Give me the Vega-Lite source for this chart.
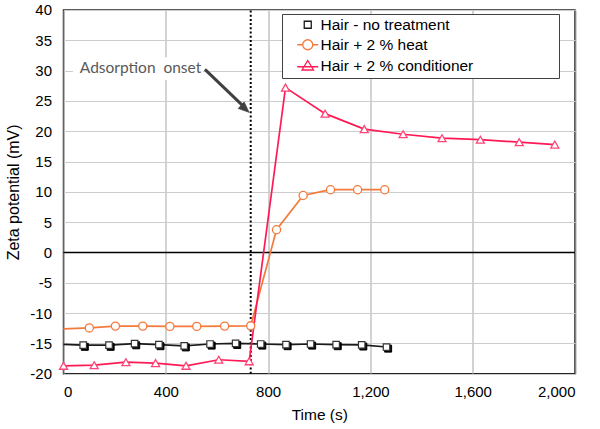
{
  "$schema": "https://vega.github.io/schema/vega-lite/v6.json",
  "width": 511.5,
  "height": 363.7,
  "autosize": {"type": "none"},
  "padding": {"left": 63.5, "top": 10, "right": 25, "bottom": 55},
  "background": "white",
  "config": {
    "view": {"stroke": "#262626", "strokeWidth": 1.5},
    "font": "Liberation Sans",
    "axis": {"labelFont": "Liberation Sans", "titleFont": "Liberation Sans", "labelColor": "black", "titleColor": "black", "titleFontWeight": "normal", "ticks": false, "domain": false}
  },
  "datasets": {
    "series": [
      {"series": "Hair - no treatment", "time": 0, "value": -15.15, "marker": "no"},
      {"series": "Hair - no treatment", "time": 77, "value": -15.3, "marker": "yes"},
      {"series": "Hair - no treatment", "time": 178, "value": -15.3, "marker": "yes"},
      {"series": "Hair - no treatment", "time": 278, "value": -15.05, "marker": "yes"},
      {"series": "Hair - no treatment", "time": 373, "value": -15.2, "marker": "yes"},
      {"series": "Hair - no treatment", "time": 472, "value": -15.4, "marker": "yes"},
      {"series": "Hair - no treatment", "time": 573, "value": -15.1, "marker": "yes"},
      {"series": "Hair - no treatment", "time": 673, "value": -15.0, "marker": "yes"},
      {"series": "Hair - no treatment", "time": 771, "value": -15.1, "marker": "yes"},
      {"series": "Hair - no treatment", "time": 870, "value": -15.2, "marker": "yes"},
      {"series": "Hair - no treatment", "time": 966, "value": -15.1, "marker": "yes"},
      {"series": "Hair - no treatment", "time": 1066, "value": -15.2, "marker": "yes"},
      {"series": "Hair - no treatment", "time": 1166, "value": -15.25, "marker": "yes"},
      {"series": "Hair - no treatment", "time": 1263, "value": -15.6, "marker": "yes"},
      {"series": "Hair + 2 % heat", "time": 0, "value": -12.6, "marker": "no"},
      {"series": "Hair + 2 % heat", "time": 101, "value": -12.45, "marker": "yes"},
      {"series": "Hair + 2 % heat", "time": 203, "value": -12.15, "marker": "yes"},
      {"series": "Hair + 2 % heat", "time": 310, "value": -12.15, "marker": "yes"},
      {"series": "Hair + 2 % heat", "time": 416, "value": -12.2, "marker": "yes"},
      {"series": "Hair + 2 % heat", "time": 521, "value": -12.2, "marker": "yes"},
      {"series": "Hair + 2 % heat", "time": 630, "value": -12.15, "marker": "yes"},
      {"series": "Hair + 2 % heat", "time": 732, "value": -12.1, "marker": "yes"},
      {"series": "Hair + 2 % heat", "time": 833, "value": 3.75, "marker": "yes"},
      {"series": "Hair + 2 % heat", "time": 937, "value": 9.4, "marker": "yes"},
      {"series": "Hair + 2 % heat", "time": 1044, "value": 10.35, "marker": "yes"},
      {"series": "Hair + 2 % heat", "time": 1150, "value": 10.35, "marker": "yes"},
      {"series": "Hair + 2 % heat", "time": 1256, "value": 10.35, "marker": "yes"},
      {"series": "Hair + 2 % conditioner", "time": 0, "value": -18.7, "marker": "yes"},
      {"series": "Hair + 2 % conditioner", "time": 120, "value": -18.6, "marker": "yes"},
      {"series": "Hair + 2 % conditioner", "time": 244, "value": -18.1, "marker": "yes"},
      {"series": "Hair + 2 % conditioner", "time": 360, "value": -18.25, "marker": "yes"},
      {"series": "Hair + 2 % conditioner", "time": 479, "value": -18.7, "marker": "yes"},
      {"series": "Hair + 2 % conditioner", "time": 607, "value": -17.7, "marker": "yes"},
      {"series": "Hair + 2 % conditioner", "time": 726, "value": -17.95, "marker": "yes"},
      {"series": "Hair + 2 % conditioner", "time": 868, "value": 27.2, "marker": "yes"},
      {"series": "Hair + 2 % conditioner", "time": 1023, "value": 22.9, "marker": "yes"},
      {"series": "Hair + 2 % conditioner", "time": 1176, "value": 20.35, "marker": "yes"},
      {"series": "Hair + 2 % conditioner", "time": 1328, "value": 19.5, "marker": "yes"},
      {"series": "Hair + 2 % conditioner", "time": 1480, "value": 18.85, "marker": "yes"},
      {"series": "Hair + 2 % conditioner", "time": 1630, "value": 18.6, "marker": "yes"},
      {"series": "Hair + 2 % conditioner", "time": 1782, "value": 18.2, "marker": "yes"},
      {"series": "Hair + 2 % conditioner", "time": 1921, "value": 17.8, "marker": "yes"}
    ]
  },
  "encoding": {
    "x": {"field": "time", "type": "quantitative", "title": "Time (s)",
      "scale": {"domain": [0, 2000], "nice": false, "zero": false},
      "axis": {"values": [0,400,800,1200,1600,2000], "format": ",.0f", "grid": true, "gridColor": "#a6a6a6", "gridWidth": 1, "labelFontSize": 15, "labelPadding": 11, "titleFontSize": 15.5, "titlePadding": 8}
    },
    "y": {"field": "value", "type": "quantitative", "title": "Zeta potential (mV)",
      "scale": {"domain": [-20, 40], "nice": false, "zero": false},
      "axis": {"values": [-20,-15,-10,-5,0,5,10,15,20,25,30,35,40], "labelExpr": "'' + datum.value", "grid": true, "gridColor": "#cccccc", "gridWidth": 1.2, "labelFontSize": 15, "labelPadding": 12, "titleFontSize": 16, "titlePadding": 8}
    }
  },
  "layer": [
    {
      "data": {"values": [{"time": 0, "time2": 2000, "value": 0}]},
      "mark": {"type": "rule", "stroke": "black", "strokeWidth": 1.5},
      "encoding": {"x2": {"field": "time2"}}
    },
    {
      "data": {"values": [{"time": 37, "time2": 545, "value": 28.45, "value2": 32.2}]},
      "mark": {"type": "rect", "fill": "white"},
      "encoding": {"x2": {"field": "time2"}, "y2": {"field": "value2"}}
    },
    {
      "data": {"values": [{"time": 64, "value": 30.4, "label": "Adsorption\u00a0 onset"}]},
      "mark": {"type": "text", "align": "left", "baseline": "middle", "font": "Lato", "fontSize": 15.5, "fill": "#595959"},
      "encoding": {"text": {"field": "label"}}
    },
    {
      "data": {"values": [{"time": 553, "value": 30.2, "time2": 714, "value2": 23.7}]},
      "mark": {"type": "rule", "stroke": "#404040", "strokeWidth": 3},
      "encoding": {"x2": {"field": "time2"}, "y2": {"field": "value2"}}
    },
    {
      "data": {"values": [{"time": 726, "value": 23.1}]},
      "mark": {"type": "point", "shape": "M0,0L-2.4,-1L-2.4,1Z", "size": 81, "angle": 42, "filled": true, "fill": "#404040", "stroke": "#404040", "strokeWidth": 0.5, "opacity": 1}
    },
    {
      "data": {"values": [{"time": 732, "value": -20, "value2": 40}]},
      "mark": {"type": "rule", "stroke": "black", "strokeWidth": 2, "strokeDash": [2, 2.2]},
      "encoding": {"y2": {"field": "value2"}}
    },
    {
      "data": {"name": "series"},
      "mark": {"type": "line", "strokeWidth": 1.7},
      "encoding": {
        "color": {
          "field": "series", "type": "nominal",
          "scale": {"domain": ["Hair - no treatment", "Hair + 2 % heat", "Hair + 2 % conditioner"], "range": ["#1a1a1a", "#f47a3c", "#ff1a55"]},
          "legend": {
            "title": null, "orient": "none", "legendX": 218.5, "legendY": 4,
            "fillColor": "white", "strokeColor": "#404040", "padding": 3,
            "labelFont": "Liberation Sans", "labelFontSize": 15.5, "labelColor": "black", "labelLimit": 400,
            "labelExpr": "datum.label === 'Hair + 2 % conditioner' ? datum.label + '\u00a0\u00a0\u00a0\u00a0\u00a0\u00a0\u00a0\u00a0\u00a0\u00a0\u00a0\u00a0\u00a0\u00a0\u00a0\u00a0\u00a0\u00a0\u00a0\u200b' : datum.label",
            "symbolOffset": 15, "labelOffset": 5, "rowPadding": 3, "symbolSize": 100, "symbolStrokeWidth": 1.3,
            "encode": {
              "symbols": {
                "update": {
                  "shape": {"signal": "datum.value === 'Hair - no treatment' ? 'M-0.7,-0.7H0.7V0.7H-0.7Z' : (datum.value === 'Hair + 2 % heat' ? 'M-2.1,0H-1M1,0H2.1M1,0A1,1,0,1,1,-1,0A1,1,0,1,1,1,0Z' : 'M-2.1,0.2H2.1M0,-1.05L1.15,0.85L-1.15,0.85Z')"},
                  "fill": {"value": "white"},
                  "fillOpacity": {"value": 1}
                }
              }
            }
          }
        }
      }
    },
    {
      "data": {"name": "series"},
      "transform": [{"filter": "datum.series === 'Hair + 2 % heat' && datum.marker === 'yes'"}],
      "mark": {"type": "point", "shape": "circle", "size": 66, "filled": false, "fill": "white", "fillOpacity": 1, "stroke": "#f47a3c", "strokeWidth": 1.3, "opacity": 1}
    },
    {
      "data": {"name": "series"},
      "transform": [{"filter": "datum.series === 'Hair + 2 % conditioner'"}],
      "mark": {"type": "point", "shape": "triangle-up", "size": 64, "filled": false, "fill": "white", "fillOpacity": 1, "stroke": "#ff4577", "strokeWidth": 1.3, "opacity": 1}
    },
    {
      "data": {"name": "series"},
      "transform": [{"filter": "datum.series === 'Hair - no treatment' && datum.marker === 'yes'"}],
      "mark": {"type": "point", "shape": "square", "size": 49, "filled": true, "fill": "black", "stroke": "black", "strokeWidth": 1, "xOffset": 1.6, "yOffset": 1.6, "opacity": 1}
    },
    {
      "data": {"name": "series"},
      "transform": [{"filter": "datum.series === 'Hair - no treatment' && datum.marker === 'yes'"}],
      "mark": {"type": "point", "shape": "square", "size": 42, "filled": false, "fill": "white", "fillOpacity": 1, "stroke": "#333333", "strokeWidth": 1.2, "opacity": 1}
    }
  ]
}
